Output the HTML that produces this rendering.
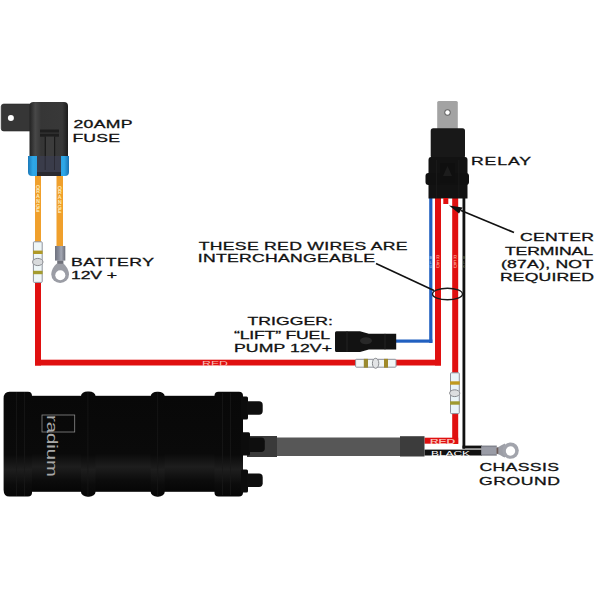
<!DOCTYPE html>
<html><head><meta charset="utf-8">
<style>
html,body{margin:0;padding:0;background:#fff;width:600px;height:600px;overflow:hidden}
svg{display:block}
.t{font-family:"Liberation Sans",sans-serif;font-size:11.6px;fill:#111;stroke:#111;stroke-width:0.3}
</style></head><body>
<svg width="600" height="600" viewBox="0 0 600 600">
<defs>
<linearGradient id="fuseBody" x1="0" x2="1" y1="0" y2="0">
<stop offset="0" stop-color="#222"/><stop offset="0.15" stop-color="#484848"/><stop offset="0.3" stop-color="#363636"/><stop offset="0.85" stop-color="#383838"/><stop offset="1" stop-color="#1c1c1c"/>
</linearGradient>
<linearGradient id="blue" x1="0" x2="1" y1="0" y2="0">
<stop offset="0" stop-color="#1a78b8"/><stop offset="0.12" stop-color="#2ea8e8"/><stop offset="0.5" stop-color="#2a90d0"/><stop offset="0.88" stop-color="#2ea8e8"/><stop offset="1" stop-color="#1a70b0"/>
</linearGradient>
<linearGradient id="pumpV" x1="0" x2="0" y1="0" y2="1">
<stop offset="0" stop-color="#080808"/><stop offset="0.6" stop-color="#0a0a0a"/><stop offset="0.74" stop-color="#1e1e1e"/><stop offset="0.88" stop-color="#0c0c0c"/><stop offset="1" stop-color="#060606"/>
</linearGradient>
<linearGradient id="grey" x1="0" x2="1" y1="0" y2="0">
<stop offset="0" stop-color="#6e717e"/><stop offset="0.4" stop-color="#8a8e9c"/><stop offset="0.6" stop-color="#a4a8b4"/><stop offset="1" stop-color="#6a6d78"/>
</linearGradient>
<linearGradient id="greyV" x1="0" x2="0" y1="0" y2="1">
<stop offset="0" stop-color="#6e707a"/><stop offset="0.2" stop-color="#9a9ca6"/><stop offset="0.8" stop-color="#9a9ca6"/><stop offset="1" stop-color="#6e707a"/>
</linearGradient>
</defs>

<!-- ===== FUSE ===== -->
<rect x="1.2" y="104" width="32" height="27" rx="2.6" fill="#363636" stroke="#2a2a2a" stroke-width="0.6"/>
<circle cx="10.9" cy="118" r="3" fill="#fff"/>
<path d="M29.5 106 Q29.5 102 33.5 102 L64 102 Q68 102 68 106 L68 170 L29.5 170 Z" fill="url(#fuseBody)"/>
<rect x="40" y="129.5" width="19" height="7.2" fill="#1e1e1e"/>
<rect x="40" y="132.6" width="19" height="1" fill="#3a3a3a"/>
<rect x="45.7" y="136.7" width="8.3" height="21" fill="#3c3c3c"/>
<rect x="44.7" y="136.7" width="1.2" height="21" fill="#1a1a1a"/>
<rect x="54" y="136.7" width="1.2" height="21" fill="#1a1a1a"/>
<path d="M28 156 L69 156 L69 172 Q69 176 65 176 L32 176 Q28 176 28 172 Z" fill="url(#blue)"/>
<rect x="37" y="156" width="24" height="20" fill="#3a3c4a"/><rect x="37" y="172" width="24" height="4" fill="#2a2a30"/><rect x="44.7" y="156" width="1" height="14" fill="#2a2a34"/><rect x="54" y="156" width="1" height="14" fill="#2a2a34"/>
<!-- orange wires -->
<rect x="35" y="176" width="6" height="66" fill="#f0a02c"/>
<rect x="56.5" y="176" width="6.5" height="70" fill="#f0a02c"/>
<text x="38.0" y="188.60" text-anchor="middle" font-family="Liberation Sans" font-size="5" fill="#fff2c8" stroke="#fff2c8" stroke-width="0.15">O</text>
<text x="38.0" y="193.35" text-anchor="middle" font-family="Liberation Sans" font-size="5" fill="#fff2c8" stroke="#fff2c8" stroke-width="0.15">R</text>
<text x="38.0" y="198.10" text-anchor="middle" font-family="Liberation Sans" font-size="5" fill="#fff2c8" stroke="#fff2c8" stroke-width="0.15">A</text>
<text x="38.0" y="202.85" text-anchor="middle" font-family="Liberation Sans" font-size="5" fill="#fff2c8" stroke="#fff2c8" stroke-width="0.15">N</text>
<text x="38.0" y="207.60" text-anchor="middle" font-family="Liberation Sans" font-size="5" fill="#fff2c8" stroke="#fff2c8" stroke-width="0.15">G</text>
<text x="38.0" y="212.35" text-anchor="middle" font-family="Liberation Sans" font-size="5" fill="#fff2c8" stroke="#fff2c8" stroke-width="0.15">E</text>
<text x="59.7" y="189.60" text-anchor="middle" font-family="Liberation Sans" font-size="5" fill="#fff2c8" stroke="#fff2c8" stroke-width="0.15">O</text>
<text x="59.7" y="194.35" text-anchor="middle" font-family="Liberation Sans" font-size="5" fill="#fff2c8" stroke="#fff2c8" stroke-width="0.15">R</text>
<text x="59.7" y="199.10" text-anchor="middle" font-family="Liberation Sans" font-size="5" fill="#fff2c8" stroke="#fff2c8" stroke-width="0.15">A</text>
<text x="59.7" y="203.85" text-anchor="middle" font-family="Liberation Sans" font-size="5" fill="#fff2c8" stroke="#fff2c8" stroke-width="0.15">N</text>
<text x="59.7" y="208.60" text-anchor="middle" font-family="Liberation Sans" font-size="5" fill="#fff2c8" stroke="#fff2c8" stroke-width="0.15">G</text>
<text x="59.7" y="213.35" text-anchor="middle" font-family="Liberation Sans" font-size="5" fill="#fff2c8" stroke="#fff2c8" stroke-width="0.15">E</text>
<!-- splice left -->
<rect x="33.4" y="241.8" width="8.8" height="40.6" rx="0.8" fill="#eef6f8" stroke="#8e929c" stroke-width="1"/>
<rect x="33" y="250.6" width="9.6" height="3.4" fill="#b09a28"/>
<rect x="33" y="270.8" width="9.6" height="3.4" fill="#a49c30"/>
<ellipse cx="37.8" cy="262" rx="5.2" ry="3.6" fill="#d8dadc" stroke="#8a8c90" stroke-width="1"/>
<!-- ring terminal battery -->
<rect x="55" y="246" width="10.3" height="14.6" fill="url(#grey)"/>
<rect x="57.2" y="260.5" width="6.2" height="3.5" fill="#6f717a"/>
<path d="M56.5 263.8 L63.8 263.8 C66 266 69 270 69 274.5 A8.85 8.4 0 0 1 51.3 274.5 C51.3 270 54 266 56.5 263.8 Z" fill="#9b9da5"/>
<circle cx="60.3" cy="275.3" r="5" fill="#fff"/>

<!-- ===== RED main wire ===== -->
<rect x="35" y="283" width="6" height="82.5" fill="#e01010"/>
<rect x="35" y="359.7" width="406" height="5.8" fill="#e01010"/>
<rect x="435" y="198" width="6" height="167.5" fill="#e01010"/>
<!-- splice on horizontal -->
<rect x="355.6" y="359.3" width="40.4" height="7.9" rx="0.8" fill="#f2f6f6" stroke="#8e929c" stroke-width="1"/>
<rect x="363.8" y="358.8" width="4.2" height="8.9" fill="#9a8a30"/>
<rect x="384" y="358.8" width="4" height="8.9" fill="#a08a2a"/>
<ellipse cx="375.6" cy="363.3" rx="3.2" ry="5" fill="#e2e4e6" stroke="#888a8e" stroke-width="1"/>
<text x="202" y="365.5" font-family="Liberation Sans" font-size="7" fill="#f6c0b8" textLength="26" lengthAdjust="spacingAndGlyphs">RED</text>

<!-- blue wire -->
<rect x="429.2" y="198" width="3.2" height="145" fill="#2160c0"/>
<rect x="396" y="339.5" width="36.4" height="3.2" fill="#2160c0"/>

<!-- trigger connector -->
<path d="M336.5 331.3 L360 331.3 L368.8 333.8 L396.2 333.8 L396.2 349.4 L368.8 349.4 L360 351.9 L336.5 351.9 Q335 351.9 335 350.4 L335 332.8 Q335 331.3 336.5 331.3 Z" fill="#121212"/>
<rect x="346.5" y="331.3" width="1" height="20.6" fill="#222"/>
<rect x="384.5" y="333.8" width="1" height="15.6" fill="#222"/>
<ellipse cx="366" cy="340.8" rx="6" ry="3.5" fill="#2e2e2e" opacity="0.8"/>
<!-- red2 wire and black wire -->
<rect x="452.2" y="198" width="6" height="246" fill="#e01010"/>
<rect x="424.5" y="437.7" width="33.7" height="6" fill="#e01010"/>
<rect x="462.5" y="198" width="2.8" height="250.6" fill="#111"/>
<rect x="462.5" y="445.6" width="19.5" height="3" fill="#111"/>
<rect x="424.5" y="449.6" width="57.5" height="5.9" fill="#111"/>
<rect x="465" y="448.5" width="17" height="1.2" fill="#9a9a9a"/>
<text x="430" y="444" font-family="Liberation Sans" font-size="8" fill="#f8d0c8" stroke="#f8d0c8" stroke-width="0.2" textLength="25" lengthAdjust="spacingAndGlyphs">RED</text>
<text x="431" y="455.5" font-family="Liberation Sans" font-size="8" fill="#fff" textLength="39" lengthAdjust="spacingAndGlyphs">BLACK</text>
<!-- splice on red2 -->
<rect x="450.5" y="372.8" width="8.8" height="40.8" rx="0.8" fill="#eaf4f8" stroke="#8e929c" stroke-width="1"/>
<rect x="450" y="381.3" width="9.8" height="3.4" fill="#c09a20"/>
<rect x="450" y="401.3" width="9.8" height="3.4" fill="#a09a30"/>
<ellipse cx="454.7" cy="393.2" rx="5.1" ry="3.4" fill="#dcdee0" stroke="#888a8e" stroke-width="1"/>
<!-- chassis ring terminal -->
<rect x="481.2" y="445.6" width="15.6" height="10" fill="url(#greyV)"/>
<path d="M496.5 447.6 C500 447 502 444.5 505 443.6 L505 457.6 C502 456.7 500 454.4 496.5 453.8 Z" fill="#9c9ea6"/>
<rect x="496.5" y="447.6" width="1.8" height="6.2" fill="#6a5a58"/>
<circle cx="510.6" cy="450.6" r="8.2" fill="#a2a4ac"/>
<circle cx="510.5" cy="451" r="4.7" fill="#fff"/>

<!-- ===== RELAY ===== -->
<rect x="437.2" y="101" width="20.6" height="29" rx="1.5" fill="#a3a3a3"/>
<circle cx="447.5" cy="112.5" r="3.2" fill="#666"/>
<circle cx="447.5" cy="112.5" r="2.2" fill="#fff"/>
<rect x="430.7" y="128.3" width="34.3" height="30" rx="2.5" fill="#181818"/>
<path d="M431 157 L465 157 Q467.5 157 467.5 160 L467.5 198.5 L428.5 198.5 L428.5 160 Q428.5 157 431 157 Z" fill="#121212"/>
<rect x="425.5" y="173" width="43.5" height="12" rx="3" fill="#101010"/>
<rect x="440" y="163" width="15" height="20" fill="#0f0f0f"/><path d="M443 176 L447.5 166 L452 176 Z" fill="#1c1c1c"/><rect x="436" y="160" width="0.8" height="38" fill="#1c1c1c"/><rect x="458.5" y="160" width="0.8" height="38" fill="#1c1c1c"/>
<rect x="443.3" y="198" width="5" height="6" fill="#e01010"/>
<!-- labels on vertical wires -->

<text x="438.1" y="259.3" text-anchor="middle" font-family="Liberation Sans" font-size="4.8" fill="#ffb0a0">R</text>
<text x="438.1" y="263.6" text-anchor="middle" font-family="Liberation Sans" font-size="4.8" fill="#ffb0a0">E</text>
<text x="438.1" y="267.9" text-anchor="middle" font-family="Liberation Sans" font-size="4.8" fill="#ffb0a0">D</text>
<text x="455.2" y="259.3" text-anchor="middle" font-family="Liberation Sans" font-size="4.8" fill="#ffb0a0">R</text>
<text x="455.2" y="263.6" text-anchor="middle" font-family="Liberation Sans" font-size="4.8" fill="#ffb0a0">E</text>
<text x="455.2" y="267.9" text-anchor="middle" font-family="Liberation Sans" font-size="4.8" fill="#ffb0a0">D</text>
<text x="430.8" y="259.3" text-anchor="middle" font-family="Liberation Sans" font-size="3.6" fill="#bcd8ff">B</text>
<text x="430.8" y="263.6" text-anchor="middle" font-family="Liberation Sans" font-size="3.6" fill="#bcd8ff">L</text>
<text x="430.8" y="267.9" text-anchor="middle" font-family="Liberation Sans" font-size="3.6" fill="#bcd8ff">U</text>
<text x="463.9" y="259.3" text-anchor="middle" font-family="Liberation Sans" font-size="3.4" fill="#6a7a6a">B</text>
<text x="463.9" y="263.6" text-anchor="middle" font-family="Liberation Sans" font-size="3.4" fill="#6a7a6a">L</text>
<text x="463.9" y="267.9" text-anchor="middle" font-family="Liberation Sans" font-size="3.4" fill="#6a7a6a">K</text>
<!-- leaders -->
<line x1="461" y1="210.5" x2="514" y2="232.5" stroke="#111" stroke-width="1.7"/>
<path d="M449 205.5 L462.5 207.5 L459 213.5 Z" fill="#111"/>
<line x1="376" y1="263.5" x2="434" y2="290.5" stroke="#111" stroke-width="1.6"/>
<ellipse cx="447.5" cy="294" rx="15" ry="5.8" fill="none" stroke="#1a1a1a" stroke-width="1.4"/>

<!-- ===== PUMP ===== -->
<rect x="247" y="436" width="30" height="21" fill="#3a3a3a"/>
<rect x="277" y="437.5" width="123" height="18.5" fill="#575757"/>
<rect x="400" y="436.2" width="24.5" height="20.3" fill="#3c3c3c"/>
<rect x="31" y="395.8" width="185" height="96" fill="url(#pumpV)"/>
<path d="M9.5 391.7 L28 391.7 Q32 391.7 32 396 L32 492.5 Q32 496.6 28 496.6 L9.5 496.6 Q3.6 496.6 3.6 490 L3.6 398.5 Q3.6 391.7 9.5 391.7 Z" fill="url(#pumpV)"/>
<rect x="16" y="392" width="0.8" height="104" fill="#181818"/>
<rect x="24" y="392" width="0.8" height="104" fill="#181818"/>
<rect x="81" y="391.5" width="14.5" height="105.2" rx="6.5" ry="4.6" fill="url(#pumpV)"/>
<rect x="87.5" y="392" width="0.8" height="104" fill="#171717"/>
<rect x="150.7" y="391.7" width="14" height="105" rx="6.5" ry="4.6" fill="url(#pumpV)"/>
<rect x="157.3" y="392" width="0.8" height="104" fill="#171717"/>
<rect x="214.5" y="391.7" width="28.5" height="104.8" rx="4" fill="url(#pumpV)"/>
<rect x="222" y="393" width="0.8" height="102" fill="#181818"/>
<rect x="230" y="393" width="0.8" height="102" fill="#181818"/>
<rect x="241" y="396.5" width="7" height="23" rx="1.5" fill="#0c0c0c"/>
<rect x="241" y="432.2" width="9" height="23.4" rx="1.5" fill="#0c0c0c"/>
<rect x="241" y="469.6" width="7" height="23" rx="1.5" fill="#0c0c0c"/>
<path d="M247 401.3 L259 401.3 Q262.7 401.3 262.7 405 L262.7 411.1 Q262.7 414.8 259 414.8 L247 414.8 Z" fill="#0e0e0e"/>
<path d="M249 437.6 L261 437.6 Q264.8 437.6 264.8 441.4 L264.8 448.2 Q264.8 452 261 452 L249 452 Z" fill="#0e0e0e"/>
<path d="M247 473.5 L259 473.5 Q262.7 473.5 262.7 477.2 L262.7 483.3 Q262.7 487 259 487 L247 487 Z" fill="#0e0e0e"/>
<!-- radium logo -->
<rect x="42" y="415" width="32.7" height="17" fill="none" stroke="#8a8a8a" stroke-width="0.8"/>
<text transform="translate(47.3,415) rotate(90)" font-family="Liberation Sans" font-size="15.5" fill="#a8a8a8" textLength="62" lengthAdjust="spacingAndGlyphs">radium</text>

<!-- ===== TEXT LABELS ===== -->
<text class="t" transform="translate(73.40,128.40) scale(1.52,1)" textLength="38.88" lengthAdjust="spacing">20AMP</text>
<text class="t" transform="translate(72.40,142.00) scale(1.52,1)" textLength="31.32" lengthAdjust="spacing">FUSE</text>
<text class="t" transform="translate(71.00,266.00) scale(1.52,1)" textLength="54.61" lengthAdjust="spacing">BATTERY</text>
<text class="t" transform="translate(71.00,278.80) scale(1.52,1)" textLength="30.26" lengthAdjust="spacing">12V +</text>
<text class="t" transform="translate(471.00,165.40) scale(1.52,1)" textLength="39.47" lengthAdjust="spacing">RELAY</text>
<text class="t" transform="translate(520.00,241.40) scale(1.52,1)" textLength="48.68" lengthAdjust="spacing">CENTER</text>
<text class="t" transform="translate(505.00,254.80) scale(1.52,1)" textLength="57.89" lengthAdjust="spacing">TERMINAL</text>
<text class="t" transform="translate(501.00,268.40) scale(1.52,1)" textLength="60.53" lengthAdjust="spacing">(87A), NOT</text>
<text class="t" transform="translate(500.00,281.40) scale(1.52,1)" textLength="61.84" lengthAdjust="spacing">REQUIRED</text>
<text class="t" transform="translate(198.80,249.70) scale(1.52,1)" textLength="137.30" lengthAdjust="spacing">THESE RED WIRES ARE</text>
<text class="t" transform="translate(197.80,262.00) scale(1.52,1)" textLength="116.58" lengthAdjust="spacing">INTERCHANGEABLE</text>
<text class="t" transform="translate(247.40,325.40) scale(1.52,1)" textLength="56.32" lengthAdjust="spacing">TRIGGER:</text>
<text class="t" transform="translate(234.00,339.00) scale(1.52,1)" textLength="63.16" lengthAdjust="spacing">“LIFT” FUEL</text>
<text class="t" transform="translate(234.00,352.00) scale(1.52,1)" textLength="64.47" lengthAdjust="spacing">PUMP 12V+</text>
<text class="t" transform="translate(479.40,470.60) scale(1.52,1)" textLength="52.37" lengthAdjust="spacing">CHASSIS</text>
<text class="t" transform="translate(479.00,484.90) scale(1.52,1)" textLength="53.29" lengthAdjust="spacing">GROUND</text>
</svg>
</body></html>
